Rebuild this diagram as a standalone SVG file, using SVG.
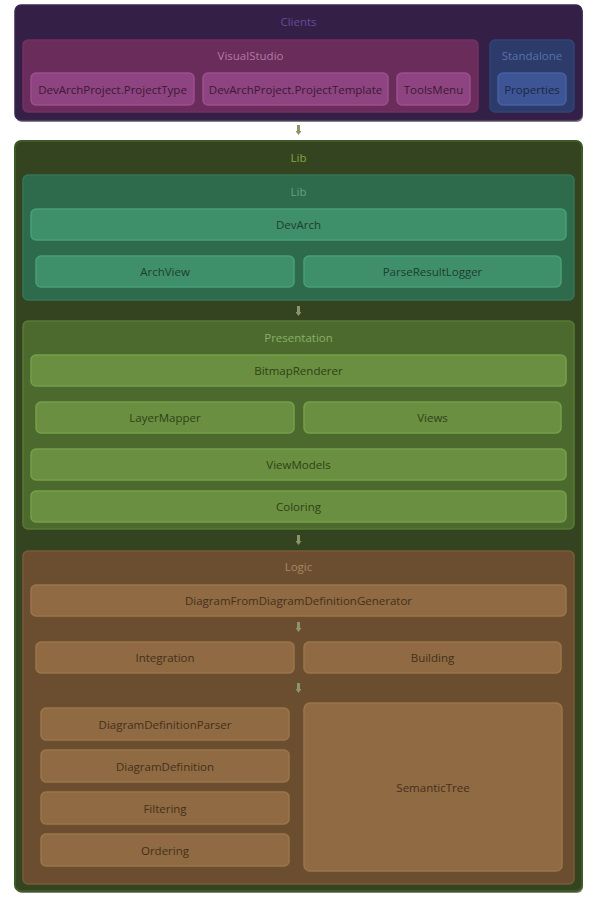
<svg xmlns="http://www.w3.org/2000/svg" width="597" height="897" viewBox="0 0 597 897">
  <defs>
    <style>
      text { font-family: "Open Sans", "Noto Sans", "Liberation Sans", sans-serif; font-size: 11.5px; text-anchor: middle; dominant-baseline: central; }
      .shadow { fill: #1e1a18; opacity: 0.55; }
      .clients { fill: #341f47; stroke: #3c2552; stroke-width: 1.5; }
      .clients-t { fill: #6a4a98; }
      .vs { fill: #6a2c5b; stroke: #752f64; stroke-width: 1.5; }
      .vs-t { fill: #b27aa6; }
      .vs-n { fill: #8e4480; stroke: #9c4f8d; stroke-width: 1.5; }
      .vs-nt { fill: #3c1935; }
      .sa { fill: #2c3b6a; stroke: #324478; stroke-width: 1.5; }
      .sa-t { fill: #5b70ae; }
      .sa-n { fill: #3e5595; stroke: #4760a3; stroke-width: 1.5; }
      .sa-nt { fill: #1c2648; }
      .lib { fill: #344420; stroke: #3d5a25; stroke-width: 2; }
      .lib-t { fill: #86a640; }
      .libi { fill: #2e6a4c; stroke: #347656; stroke-width: 1.5; }
      .libi-t { fill: #62a57c; }
      .libi-n { fill: #3f8f6a; stroke: #48a077; stroke-width: 1.5; }
      .libi-nt { fill: #1e3e2e; }
      .pres { fill: #4d6a2e; stroke: #587a34; stroke-width: 1.5; }
      .pres-t { fill: #88b064; }
      .pres-n { fill: #6a8f40; stroke: #76a04a; stroke-width: 1.5; }
      .pres-nt { fill: #2e4218; }
      .logic { fill: #6b4e30; stroke: #7a5a38; stroke-width: 1.5; }
      .logic-t { fill: #a78763; }
      .logic-n { fill: #8f6a42; stroke: #9c764a; stroke-width: 1.5; }
      .logic-nt { fill: #45301c; }
      .arrow { fill: #8c9468; }
    </style>
    <symbol id="down" viewBox="0 0 6 10" width="6" height="10">
      <rect x="1.5" y="0" width="3" height="6"/>
      <polygon points="0,6 6,6 3,10"/>
    </symbol>
  </defs>

  <!-- Clients layer -->
  <g id="clients">
    <rect class="shadow" x="16" y="7" width="567" height="115" rx="6"/>
    <rect class="clients" x="15" y="5" width="567" height="115" rx="6"/>
    <text class="clients-t" x="298.5" y="21.5">Clients</text>
  </g>
  <g id="visualstudio">
    <rect class="vs" x="23" y="40" width="455" height="72" rx="5"/>
    <text class="vs-t" x="250.5" y="55.5">VisualStudio</text>
  </g>
  <g id="projecttype">
    <rect class="vs-n" x="31" y="73" width="163" height="32" rx="5"/>
    <text class="vs-nt" x="112.5" y="89">DevArchProject.ProjectType</text>
  </g>
  <g id="projecttemplate">
    <rect class="vs-n" x="203" y="73" width="185" height="32" rx="5"/>
    <text class="vs-nt" x="295.5" y="89">DevArchProject.ProjectTemplate</text>
  </g>
  <g id="toolsmenu">
    <rect class="vs-n" x="397" y="73" width="73" height="32" rx="5"/>
    <text class="vs-nt" x="433.5" y="89">ToolsMenu</text>
  </g>
  <g id="standalone">
    <rect class="sa" x="490" y="40" width="84" height="72" rx="5"/>
    <text class="sa-t" x="532" y="55.5">Standalone</text>
  </g>
  <g id="properties">
    <rect class="sa-n" x="498" y="73" width="68" height="32" rx="5"/>
    <text class="sa-nt" x="532" y="89">Properties</text>
  </g>

  <!-- Lib outer layer -->
  <g id="lib-outer">
    <rect class="shadow" x="16" y="143" width="567" height="750" rx="6"/>
    <rect class="lib" x="15" y="141" width="567" height="750" rx="6"/>
    <text class="lib-t" x="298.5" y="157.5">Lib</text>
  </g>

  <!-- Lib inner layer -->
  <g id="lib-inner">
    <rect class="libi" x="23" y="175" width="551" height="125" rx="5"/>
    <text class="libi-t" x="298.5" y="191.5">Lib</text>
  </g>
  <g id="devarch">
    <rect class="libi-n" x="31" y="209" width="535" height="31" rx="5"/>
    <text class="libi-nt" x="298.5" y="224.5">DevArch</text>
  </g>
  <g id="archview">
    <rect class="libi-n" x="36" y="256" width="258" height="31" rx="5"/>
    <text class="libi-nt" x="165" y="271.5">ArchView</text>
  </g>
  <g id="parseresultlogger">
    <rect class="libi-n" x="304" y="256" width="257" height="31" rx="5"/>
    <text class="libi-nt" x="432.5" y="271.5">ParseResultLogger</text>
  </g>

  <!-- Presentation layer -->
  <g id="presentation">
    <rect class="pres" x="23" y="321" width="551" height="208" rx="5"/>
    <text class="pres-t" x="298.5" y="337.5">Presentation</text>
  </g>
  <g id="bitmaprenderer">
    <rect class="pres-n" x="31" y="355" width="535" height="31" rx="5"/>
    <text class="pres-nt" x="298.5" y="370.5">BitmapRenderer</text>
  </g>
  <g id="layermapper">
    <rect class="pres-n" x="36" y="402" width="258" height="31" rx="5"/>
    <text class="pres-nt" x="165" y="417.5">LayerMapper</text>
  </g>
  <g id="views">
    <rect class="pres-n" x="304" y="402" width="257" height="31" rx="5"/>
    <text class="pres-nt" x="432.5" y="417.5">Views</text>
  </g>
  <g id="viewmodels">
    <rect class="pres-n" x="31" y="449" width="535" height="31" rx="5"/>
    <text class="pres-nt" x="298.5" y="464.5">ViewModels</text>
  </g>
  <g id="coloring">
    <rect class="pres-n" x="31" y="491" width="535" height="31" rx="5"/>
    <text class="pres-nt" x="298.5" y="506.5">Coloring</text>
  </g>

  <!-- Logic layer -->
  <g id="logic">
    <rect class="logic" x="23" y="551" width="551" height="333" rx="5"/>
    <text class="logic-t" x="298.5" y="566.5">Logic</text>
  </g>
  <g id="generator">
    <rect class="logic-n" x="31" y="585" width="535" height="31" rx="5"/>
    <text class="logic-nt" x="298.5" y="600.5">DiagramFromDiagramDefinitionGenerator</text>
  </g>
  <g id="integration">
    <rect class="logic-n" x="36" y="642" width="258" height="31" rx="5"/>
    <text class="logic-nt" x="165" y="657.5">Integration</text>
  </g>
  <g id="building">
    <rect class="logic-n" x="304" y="642" width="257" height="31" rx="5"/>
    <text class="logic-nt" x="432.5" y="657.5">Building</text>
  </g>
  <g id="diagramdefinitionparser">
    <rect class="logic-n" x="41" y="708" width="248" height="32" rx="5"/>
    <text class="logic-nt" x="165" y="724">DiagramDefinitionParser</text>
  </g>
  <g id="diagramdefinition">
    <rect class="logic-n" x="41" y="750" width="248" height="32" rx="5"/>
    <text class="logic-nt" x="165" y="766">DiagramDefinition</text>
  </g>
  <g id="filtering">
    <rect class="logic-n" x="41" y="792" width="248" height="32" rx="5"/>
    <text class="logic-nt" x="165" y="808">Filtering</text>
  </g>
  <g id="ordering">
    <rect class="logic-n" x="41" y="834" width="248" height="32" rx="5"/>
    <text class="logic-nt" x="165" y="850">Ordering</text>
  </g>
  <g id="semantictree">
    <rect class="logic-n" x="304" y="703" width="258" height="168" rx="6"/>
    <text class="logic-nt" x="433" y="787">SemanticTree</text>
  </g>

  <!-- Dependency connectors between layers -->
  <g id="connectors" class="arrow">
    <use href="#down" x="295.5" y="125"/>
    <use href="#down" x="295.5" y="306"/>
    <use href="#down" x="295.5" y="535"/>
    <use href="#down" x="295.5" y="622"/>
    <use href="#down" x="295.5" y="683"/>
  </g>
</svg>
